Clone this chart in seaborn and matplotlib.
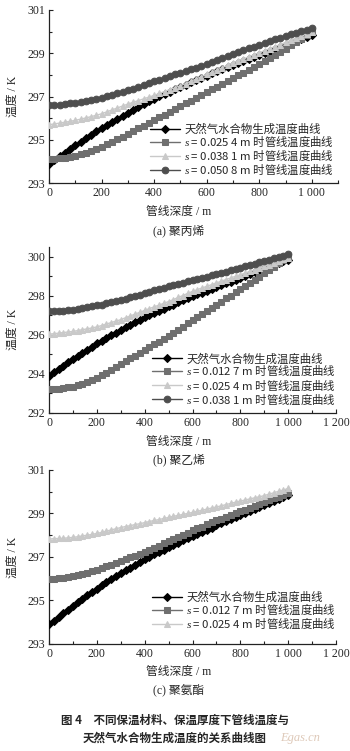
import numpy as np
import pandas as pd
import matplotlib
matplotlib.use("Agg")
import matplotlib.pyplot as plt
import seaborn as sns
from matplotlib.ticker import MultipleLocator, FixedLocator, FuncFormatter

# ---------------- data ----------------
depth = list(range(0, 1001, 20))  # pipeline depth, m

hydrate_temp = [293.90, 294.07, 294.24, 294.41, 294.58, 294.75, 294.91, 295.07, 295.23, 295.39,
                295.55, 295.69, 295.83, 295.97, 296.11, 296.25, 296.38, 296.51, 296.64, 296.77,
                296.90, 297.01, 297.12, 297.23, 297.34, 297.45, 297.55, 297.66, 297.76, 297.87,
                297.97, 298.07, 298.16, 298.26, 298.35, 298.45, 298.54, 298.64, 298.73, 298.83,
                298.92, 299.02, 299.11, 299.21, 299.30, 299.40, 299.49, 299.58, 299.67, 299.76,
                299.85]

# (a) polypropylene
pp_254 = [294.10, 294.11, 294.14, 294.17, 294.21, 294.25, 294.32, 294.40, 294.48, 294.57,
          294.67, 294.79, 294.91, 295.03, 295.15, 295.28, 295.40, 295.53, 295.65, 295.78,
          295.90, 296.03, 296.16, 296.29, 296.42, 296.55, 296.68, 296.81, 296.94, 297.07,
          297.20, 297.33, 297.46, 297.59, 297.72, 297.85, 297.98, 298.10, 298.23, 298.35,
          298.48, 298.62, 298.77, 298.91, 299.06, 299.20, 299.36, 299.52, 299.68, 299.84,
          300.00]
pp_381 = [295.70, 295.73, 295.77, 295.81, 295.85, 295.90, 295.95, 296.01, 296.07, 296.13,
          296.20, 296.29, 296.38, 296.47, 296.56, 296.65, 296.73, 296.81, 296.89, 296.97,
          297.05, 297.14, 297.23, 297.32, 297.41, 297.50, 297.60, 297.71, 297.81, 297.92,
          298.02, 298.13, 298.23, 298.34, 298.44, 298.55, 298.64, 298.74, 298.83, 298.93,
          299.02, 299.12, 299.21, 299.31, 299.40, 299.50, 299.60, 299.70, 299.80, 299.90,
          300.00]
pp_508 = [296.60, 296.61, 296.63, 296.65, 296.68, 296.72, 296.76, 296.81, 296.85, 296.90,
          296.95, 297.01, 297.08, 297.14, 297.21, 297.28, 297.36, 297.45, 297.53, 297.62,
          297.70, 297.78, 297.86, 297.94, 298.02, 298.10, 298.18, 298.26, 298.34, 298.42,
          298.50, 298.59, 298.68, 298.77, 298.86, 298.95, 299.04, 299.13, 299.22, 299.31,
          299.40, 299.48, 299.56, 299.64, 299.72, 299.80, 299.87, 299.94, 300.01, 300.08,
          300.15]

# (b) polyethylene
pe_127 = [293.20, 293.21, 293.23, 293.26, 293.30, 293.34, 293.40, 293.48, 293.57, 293.67,
          293.77, 293.91, 294.06, 294.20, 294.35, 294.50, 294.64, 294.79, 294.93, 295.08,
          295.22, 295.36, 295.50, 295.64, 295.78, 295.92, 296.09, 296.25, 296.42, 296.58,
          296.75, 296.91, 297.07, 297.23, 297.39, 297.55, 297.70, 297.86, 298.01, 298.17,
          298.32, 298.49, 298.65, 298.82, 298.98, 299.15, 299.32, 299.49, 299.66, 299.83,
          300.00]
pe_254 = [296.03, 296.05, 296.08, 296.11, 296.14, 296.17, 296.21, 296.26, 296.30, 296.35,
          296.40, 296.47, 296.55, 296.62, 296.70, 296.77, 296.87, 296.96, 297.06, 297.15,
          297.25, 297.34, 297.43, 297.52, 297.61, 297.70, 297.80, 297.91, 298.01, 298.12,
          298.22, 298.31, 298.40, 298.48, 298.57, 298.66, 298.74, 298.83, 298.91, 299.00,
          299.08, 299.16, 299.25, 299.33, 299.42, 299.50, 299.59, 299.68, 299.77, 299.86,
          299.95]
pe_381 = [297.20, 297.21, 297.22, 297.24, 297.26, 297.29, 297.33, 297.37, 297.41, 297.45,
          297.50, 297.55, 297.61, 297.66, 297.72, 297.77, 297.84, 297.91, 297.99, 298.06,
          298.13, 298.20, 298.27, 298.34, 298.41, 298.48, 298.54, 298.61, 298.67, 298.74,
          298.80, 298.86, 298.92, 298.98, 299.04, 299.10, 299.17, 299.23, 299.30, 299.36,
          299.43, 299.50, 299.57, 299.64, 299.71, 299.78, 299.85, 299.92, 299.98, 300.05,
          300.12]

# (c) polyurethane
pu_127 = [296.00, 296.01, 296.03, 296.05, 296.08, 296.11, 296.16, 296.22, 296.28, 296.34,
          296.40, 296.48, 296.57, 296.65, 296.74, 296.82, 296.90, 296.98, 297.06, 297.14,
          297.22, 297.32, 297.42, 297.52, 297.62, 297.72, 297.82, 297.92, 298.02, 298.12,
          298.22, 298.31, 298.40, 298.50, 298.59, 298.68, 298.76, 298.85, 298.93, 299.02,
          299.10, 299.18, 299.27, 299.35, 299.44, 299.52, 299.61, 299.69, 299.78, 299.86,
          299.95]
pu_254 = [297.83, 297.84, 297.85, 297.86, 297.88, 297.90, 297.93, 297.97, 298.00, 298.04,
          298.08, 298.13, 298.19, 298.24, 298.30, 298.35, 298.40, 298.44, 298.49, 298.53,
          298.58, 298.63, 298.68, 298.72, 298.77, 298.82, 298.87, 298.91, 298.96, 299.00,
          299.05, 299.10, 299.15, 299.20, 299.25, 299.30, 299.35, 299.41, 299.46, 299.52,
          299.57, 299.62, 299.67, 299.72, 299.77, 299.82, 299.89, 299.95, 300.02, 300.08,
          300.15]

yticks_a = [293, 295, 297, 299, 301]
yticks_b = [292, 294, 296, 298, 300]
yticks_c = [293, 295, 297, 299, 301]

label_hyd = "天然气水合物生成温度曲线"
lbl = lambda s: f"$s$ = {s} m 时管线温度曲线"

captions = ["(a) 聚丙烯", "(b) 聚乙烯", "(c) 聚氨酯"]
xlabel_txt = "管线深度 / m"
ylabel_txt = "温度 / K"
fig_caption = ["图 4　不同保温材料、保温厚度下管线温度与", "天然气水合物生成温度的关系曲线图"]

# ---------------- style ----------------
sns.set_theme(style="ticks")
plt.rcParams["font.family"] = ["Liberation Serif", "Noto Sans CJK SC", "DejaVu Sans"]
plt.rcParams["mathtext.fontset"] = "custom"
plt.rcParams["mathtext.rm"] = "Noto Sans CJK SC"
plt.rcParams["mathtext.it"] = "Liberation Serif:italic"
plt.rcParams["mathtext.bf"] = "Noto Sans CJK SC:bold"
plt.rcParams["axes.unicode_minus"] = False

styles = {
    "hyd": dict(color="#000000", marker="D", markersize=3.6),
    "sq": dict(color="#6f6f6f", marker="s", markersize=4.6),
    "tri": dict(color="#c9c9c9", marker="^", markersize=4.6),
    "cir": dict(color="#4e4e4e", marker="o", markersize=4.8),
}

panels = [
    dict(rect=[0.14, 0.7563, 0.826, 0.2304], ylim=(293, 301), yticks=yticks_a, xmax=1100,
         xlabels_to=1000,
         series=[("hyd", hydrate_temp, label_hyd), ("sq", pp_254, lbl("0.025 4")),
                 ("tri", pp_381, lbl("0.038 1")), ("cir", pp_508, lbl("0.050 8"))],
         leg=(0.35, 0.345), xl_y=212, cap_y=231),
    dict(rect=[0.14, 0.4505, 0.82, 0.2206], ylim=(292, 300.5), yticks=yticks_b, xmax=1200,
         xlabels_to=1200,
         series=[("hyd", hydrate_temp, label_hyd), ("sq", pe_127, lbl("0.012 7")),
                 ("tri", pe_254, lbl("0.025 4")), ("cir", pe_381, lbl("0.038 1"))],
         leg=(0.36, 0.36), xl_y=442, cap_y=460),
    dict(rect=[0.14, 0.1425, 0.82, 0.2317], ylim=(293, 301), yticks=yticks_c, xmax=1200,
         xlabels_to=1200,
         series=[("hyd", hydrate_temp, label_hyd), ("sq", pu_127, lbl("0.012 7")),
                 ("tri", pu_254, lbl("0.025 4"))],
         leg=(0.36, 0.30), xl_y=672, cap_y=690),
]

W, H = 350, 751
fig = plt.figure(figsize=(W / 100, H / 100), dpi=100)

def fmt_thousands(v, pos):
    v = int(round(v))
    if v >= 1000:
        return f"{v // 1000} {v % 1000:03d}"
    return str(v)

leg_prop = dict(family=["Noto Sans CJK SC", "DejaVu Sans"], size=8.2)

for i, p in enumerate(panels):
    ax = fig.add_axes(p["rect"])
    for key, vals, label in p["series"]:
        df = pd.DataFrame({"depth": depth, "temp": vals})
        st = styles[key]
        sns.lineplot(data=df, x="depth", y="temp", ax=ax, color=st["color"],
                     marker=st["marker"], markersize=st["markersize"],
                     markeredgecolor=st["color"], markerfacecolor=st["color"],
                     linewidth=1.0, label=label, zorder=3)
    ax.set_xlim(0, p["xmax"])
    ax.set_ylim(*p["ylim"])
    ax.xaxis.set_major_locator(MultipleLocator(200))
    ax.xaxis.set_minor_locator(MultipleLocator(100))
    ax.yaxis.set_major_locator(FixedLocator(p["yticks"]))
    ax.yaxis.set_minor_locator(MultipleLocator(1))
    lim = p["xlabels_to"]
    ax.xaxis.set_major_formatter(FuncFormatter(lambda v, pos, lim=lim: fmt_thousands(v, pos) if v <= lim + 1 else ""))
    ax.tick_params(axis="both", which="both", direction="in", labelsize=8.5, color="#222222",
                   pad=3)
    ax.tick_params(which="major", length=3, width=0.8)
    ax.tick_params(which="minor", length=2, width=0.8)
    for s in ["top", "right"]:
        ax.spines[s].set_visible(False)
    for s in ["left", "bottom"]:
        ax.spines[s].set_color("#222222")
        ax.spines[s].set_linewidth(0.9)
    ax.set_xlabel("")
    ax.set_ylabel(ylabel_txt, fontsize=8.5)
    ax.yaxis.set_label_coords(-0.105, 0.5)
    ax.grid(False)
    leg = ax.legend(loc="upper left", bbox_to_anchor=p["leg"], frameon=False,
                    prop=leg_prop, handlelength=2.6, handletextpad=0.4,
                    labelspacing=-0.02, borderpad=0, borderaxespad=0)
    fig.text(0.51, 1 - p["xl_y"] / H, xlabel_txt, ha="center", va="center", fontsize=8.5)
    fig.text(0.51, 1 - p["cap_y"] / H, captions[i], ha="center", va="center", fontsize=8.5)

fig.text(0.50, 1 - 720 / H, fig_caption[0], ha="center", va="center", fontsize=8.3,
         fontweight="bold", family=["Noto Sans CJK SC", "DejaVu Sans"])
fig.text(0.50, 1 - 738 / H, fig_caption[1], ha="center", va="center", fontsize=8.3,
         fontweight="bold", family=["Noto Sans CJK SC", "DejaVu Sans"])
fig.text(0.80, 1 - 738 / H, "Egas.cn", ha="left", va="center", fontsize=9,
         style="italic", color="#c8a58a", alpha=0.6, family=["Liberation Serif"])

fig.savefig("out.png", dpi=100)
